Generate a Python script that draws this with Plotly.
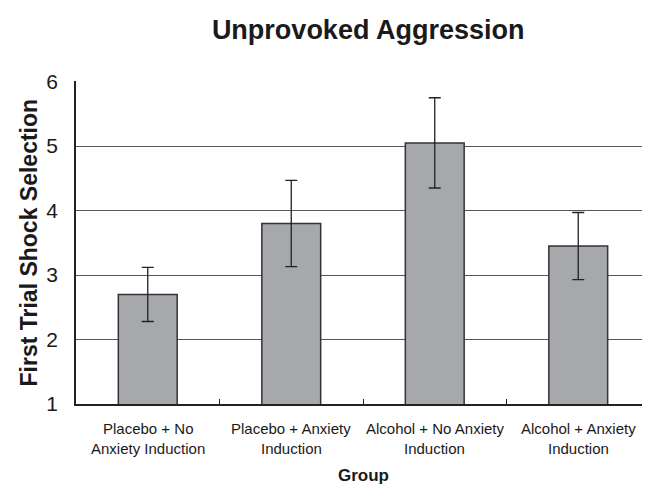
import plotly.graph_objects as go

categories = ["Placebo + No<br>Anxiety Induction", "Placebo + Anxiety<br>Induction",
              "Alcohol + No Anxiety<br>Induction", "Alcohol + Anxiety<br>Induction"]
means = [2.70, 3.80, 5.05, 3.45]
errors = [0.42, 0.67, 0.70, 0.52]
y_ticks = [1, 2, 3, 4, 5, 6]

font = "Liberation Sans, Arial, sans-serif"
ink = "#1a1a1a"

fig = go.Figure(go.Bar(
    x=categories, y=means,
    marker=dict(color="#a7a8ac", line=dict(color="#333333", width=1.5)),
    error_y=dict(type="data", array=errors, color="#222222", thickness=1.3, width=6),
    width=0.41,
))

# category labels as two-line annotations (wider line spacing than tick labels)
for cat in categories:
    for i, line in enumerate(cat.split("<br>")):
        fig.add_annotation(x=cat, xref="x", y=0, yref="paper", yanchor="middle",
                           yshift=-24 - 20 * i, text=line, showarrow=False,
                           font=dict(size=15, family=font, color=ink))

fig.add_annotation(x=0.5, xref="paper", y=0, yref="paper", yanchor="middle", yshift=-71,
                   text="<b>Group</b>", showarrow=False,
                   font=dict(size=17, family=font, color=ink))

fig.add_annotation(x=0, xref="paper", y=0.5, yref="paper", xanchor="center", yanchor="middle",
                   xshift=-48, textangle=-90, text="<b>First Trial Shock Selection</b>",
                   showarrow=False, font=dict(size=23, family=font, color=ink))

fig.update_layout(
    width=642, height=486,
    margin=dict(l=68, r=0, t=73, b=90),
    plot_bgcolor="white", paper_bgcolor="white",
    showlegend=False,
    title=dict(text="<b>Unprovoked Aggression</b>", x=0.561, xanchor="center",
               y=1 - 22 / 486, yanchor="middle",
               font=dict(family=font, size=27, color=ink)),
    font=dict(family=font, color=ink),
)
fig.update_yaxes(
    range=[1, 6.01], tickvals=y_ticks, showgrid=True, gridcolor="#555555", gridwidth=1,
    showline=True, linecolor="#222222", linewidth=1.5, ticks="", ticklabelstandoff=12,
    tickfont=dict(size=21, family=font, color=ink),
    zeroline=False, automargin=False,
)
fig.update_xaxes(
    showline=True, linecolor="#222222", linewidth=1.5,
    ticks="inside", tickson="boundaries", ticklen=5, tickcolor="#222222",
    showticklabels=False, automargin=False,
)

fig.write_html("out.html")
